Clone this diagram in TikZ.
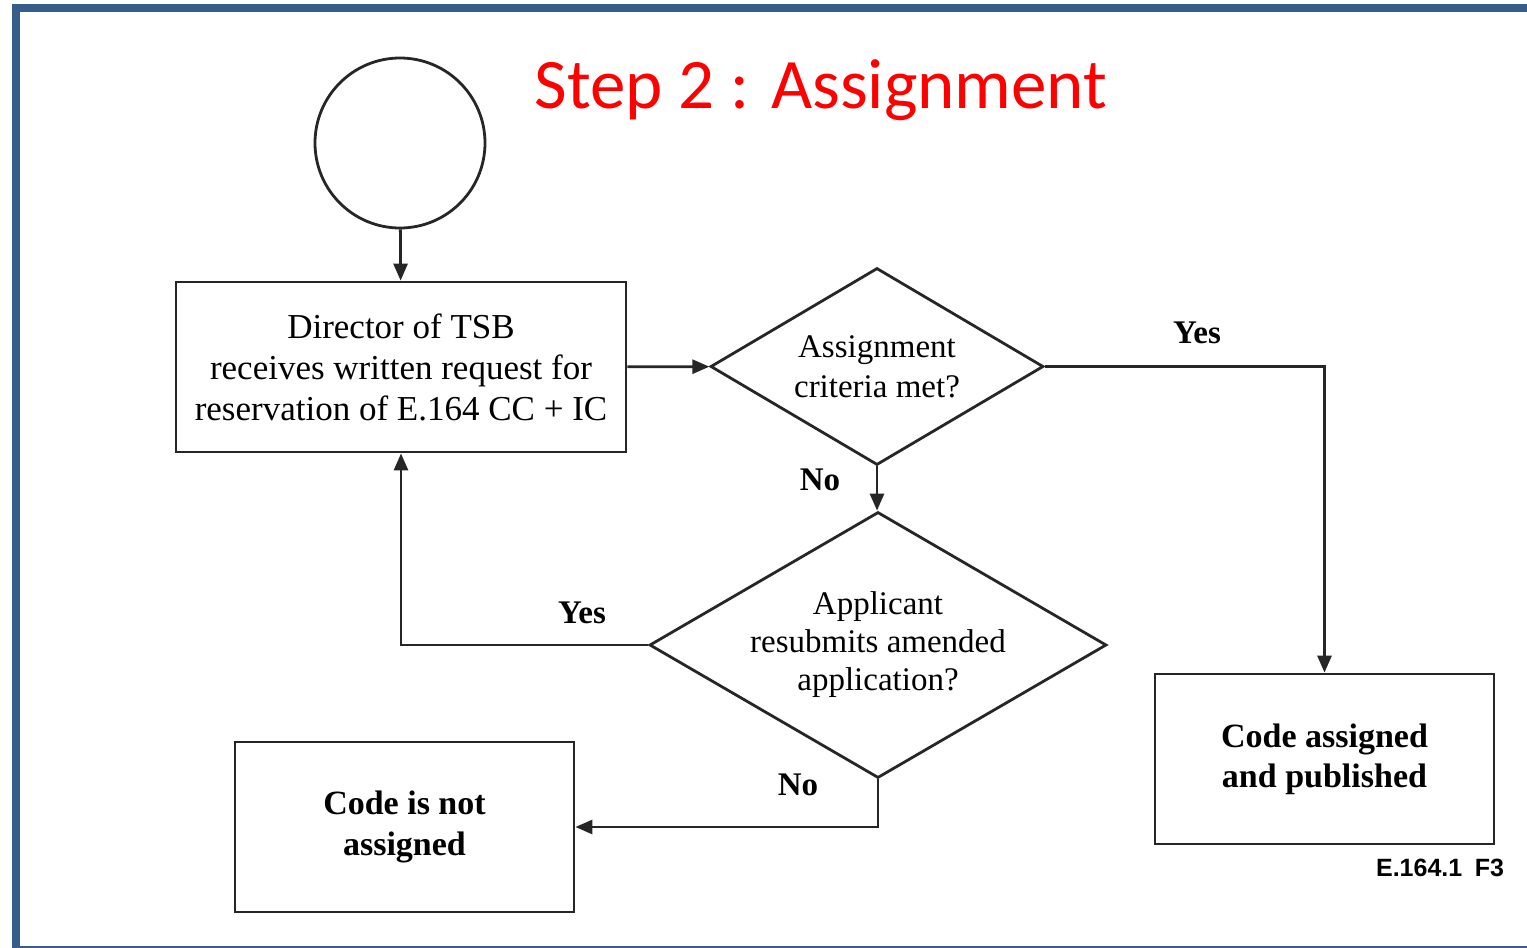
\documentclass[tikz,border=0pt]{standalone}
\usepackage{fontspec}
\setmainfont{Liberation Serif}
\newfontfamily\titlefont{Carlito}
\newfontfamily\tagfont{Liberation Sans}
\usetikzlibrary{shapes.geometric,arrows.meta}
\definecolor{framecol}{RGB}{54,94,140}
\definecolor{titlered}{RGB}{255,0,0}
\newcommand{\sz}[2]{\fontsize{#1}{#2}\selectfont}

\begin{document}
\begin{tikzpicture}[x=1pt,y=-1pt]
  \tikzset{line/.style={draw=black!85, line width=2.8pt},
           flow/.style={line, -{Triangle[length=17pt,width=14pt]}},
           proc/.style={line, rectangle, align=center, inner sep=0pt},
           decide/.style={line, diamond, align=center, inner sep=0pt},
           lbl/.style={font=\sz{33}{38}\bfseries}}
  \useasboundingbox (0,0) rectangle (1527,948);
  \clip (0,0) rectangle (1527,948);
  \draw[framecol, line width=8pt] (15.5,7.5) rectangle (1560,950);
  \node[titlered, anchor=base, font=\titlefont\sz{71}{80}] (title) at (821,108) {Step 2 : Assignment};

  \node[line, circle, minimum size=170pt, inner sep=0pt] (start) at (400,143) {};
  \node[proc, minimum width=450pt, minimum height=170pt, font=\sz{35}{41}] (tsb) at (401,367)
       {Director of TSB\\receives written request for\\reservation of E.164 CC + IC};
  \node[decide, aspect=1.69, minimum width=333pt, minimum height=197pt, font=\sz{33}{40}] (crit) at (877,366.5)
       {Assignment\\criteria met?};
  \node[decide, aspect=1.72, minimum width=457pt, minimum height=266pt, font=\sz{33}{38}] (resub) at (878,645)
       {Applicant\\resubmits amended\\application?};
  \node[proc, minimum width=339pt, minimum height=170pt, font=\sz{34}{40}\bfseries] (pub) at (1324.5,759)
       {Code assigned\\and published};
  \node[proc, minimum width=339pt, minimum height=170pt, font=\sz{34}{41}\bfseries] (notass) at (404.5,827)
       {Code is not\\assigned};
  \node[font=\tagfont\sz{25}{30}\bfseries] (tag) at (1440,868) {E.164.1\enspace F3};

  \draw[flow] (start) -- (tsb);
  \draw[flow] (tsb) -- (crit);
  \draw[flow] (crit.east) -| (pub.north);
  \draw[flow] (crit.south) -- (crit.south |- resub.north);
  \draw[flow] (resub.west) -| (tsb.south);
  \draw[flow] (resub.south) |- (notass.east);

  \node[lbl] (yesA) at (1197,333) {Yes};
  \node[lbl] (noA) at (820,480) {No};
  \node[lbl] (yesB) at (582,613) {Yes};
  \node[lbl] (noB) at (798,785) {No};
\end{tikzpicture}
\end{document}
